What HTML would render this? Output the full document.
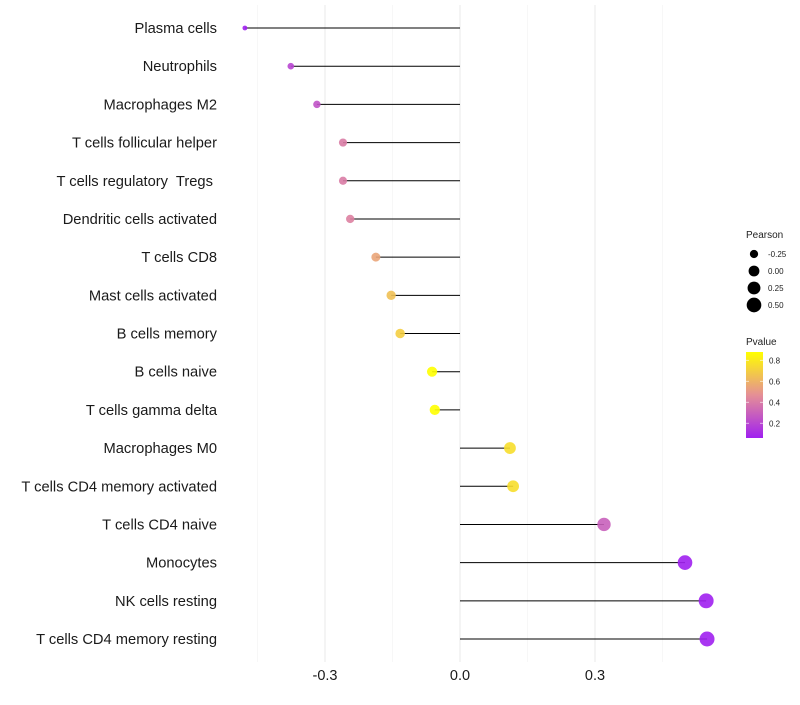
<!DOCTYPE html>
<html><head><meta charset="utf-8"><style>
body{margin:0;background:#fff;font-family:"Liberation Sans",sans-serif}
text{white-space:pre}
</style></head><body>
<svg id="c" width="800" height="700" xmlns="http://www.w3.org/2000/svg"></svg>
<script>
const categories=["Plasma cells","Neutrophils","Macrophages M2","T cells follicular helper","T cells regulatory  Tregs ","Dendritic cells activated","T cells CD8","Mast cells activated","B cells memory","B cells naive","T cells gamma delta","Macrophages M0","T cells CD4 memory activated","T cells CD4 naive","Monocytes","NK cells resting","T cells CD4 memory resting"];
const pearson=[-0.478,-0.376,-0.318,-0.26,-0.26,-0.244,-0.187,-0.153,-0.133,-0.062,-0.056,0.111,0.118,0.32,0.5,0.547,0.549];
const pvalue=[0.05,0.2,0.25,0.4,0.4,0.42,0.55,0.65,0.7,0.88,0.88,0.76,0.76,0.3,0.06,0.03,0.03];
const xTicks=[-0.3,0.0,0.3];
const xTickLabels=["-0.3","0.0","0.3"];
const xMinor=[-0.45,-0.15,0.15,0.45];
const sizeLegend=[-0.25,0.00,0.25,0.50];
const sizeLegendLabels=["-0.25","0.00","0.25","0.50"];
const pTicks=[0.2,0.4,0.6,0.8];

const svg=document.getElementById('c');const NS="http://www.w3.org/2000/svg";
function mk(t,a,p){const e=document.createElementNS(NS,t);for(const k in a)e.setAttribute(k,a[k]);(p||svg).appendChild(e);return e;}
const x=v=>460+v*450;
const y=i=>28+i*(639-28)/(categories.length-1);
const r=v=>Math.sqrt(Math.max(2.25,29.2+48.7*v));
const pY=v=>438-(v-0.06)*(86/0.82);
function col(p){const t=Math.max(0,Math.min(1,(p-0.06)/0.82));
 const s=[[160,32,240],[229,143,150],[255,255,0]];let a,b,u;
 if(t<0.5){a=s[0];b=s[1];u=t/0.5}else{a=s[1];b=s[2];u=(t-0.5)/0.5}
 return `rgb(${a.map((c,i)=>Math.round(c+(b[i]-c)*u)).join(',')})`;}
const grid=mk('g',{});
xMinor.forEach(v=>{const l=mk('line',{x1:x(v),x2:x(v),y1:5,y2:662,stroke:'#f2f2f2','stroke-width':0.6},grid);});
xTicks.forEach((v,i)=>{const l=mk('line',{x1:x(v),x2:x(v),y1:5,y2:662,stroke:'#ebebeb','stroke-width':1.1},grid);
 const t=mk('text',{x:x(v),y:680,'text-anchor':'middle','font-size':14.5,fill:'#1a1a1a'});t.textContent=xTickLabels[i];});
categories.forEach((c,i)=>{
 const t=mk('text',{x:217,y:y(i)+5,'text-anchor':'end','font-size':14.7,fill:'#1a1a1a'});t.textContent=c;
 const l=mk('line',{x1:x(0),x2:x(pearson[i]),y1:y(i),y2:y(i),stroke:'#000','stroke-width':1});
 const d=mk('circle',{cx:x(pearson[i]),cy:y(i),r:r(pearson[i]),fill:col(pvalue[i]),'fill-opacity':0.9});
});
const lg=mk('g',{});
let t=mk('text',{x:746,y:238,'font-size':10,fill:'#222'},lg);t.textContent='Pearson';
sizeLegend.forEach((v,i)=>{const yy=254+i*17;const c=mk('circle',{cx:754,cy:yy,r:r(v),fill:'#000'},lg);
 const tt=mk('text',{x:768,y:yy+3,'font-size':8,fill:'#222'},lg);tt.textContent=sizeLegendLabels[i];});
const pg=mk('g',{});
t=mk('text',{x:746,y:345,'font-size':10,fill:'#222'},pg);t.textContent='Pvalue';
const defs=mk('defs',{});const g=mk('linearGradient',{id:'pg',x1:0,y1:1,x2:0,y2:0},defs);
[0,0.25,0.5,0.75,1].forEach(o=>mk('stop',{offset:o,'stop-color':col(0.06+o*0.82)},g));
mk('rect',{x:746,y:352,width:17,height:86,fill:'url(#pg)'},pg);
pTicks.forEach(v=>{mk('line',{x1:746,x2:749,y1:pY(v),y2:pY(v),stroke:'#fff','stroke-opacity':0.6},pg);mk('line',{x1:760,x2:763,y1:pY(v),y2:pY(v),stroke:'#fff','stroke-opacity':0.6},pg);
 const tt=mk('text',{x:769,y:pY(v)+3,'font-size':8,fill:'#222'},pg);tt.textContent=v.toFixed(1);});
</script>
</body></html>
